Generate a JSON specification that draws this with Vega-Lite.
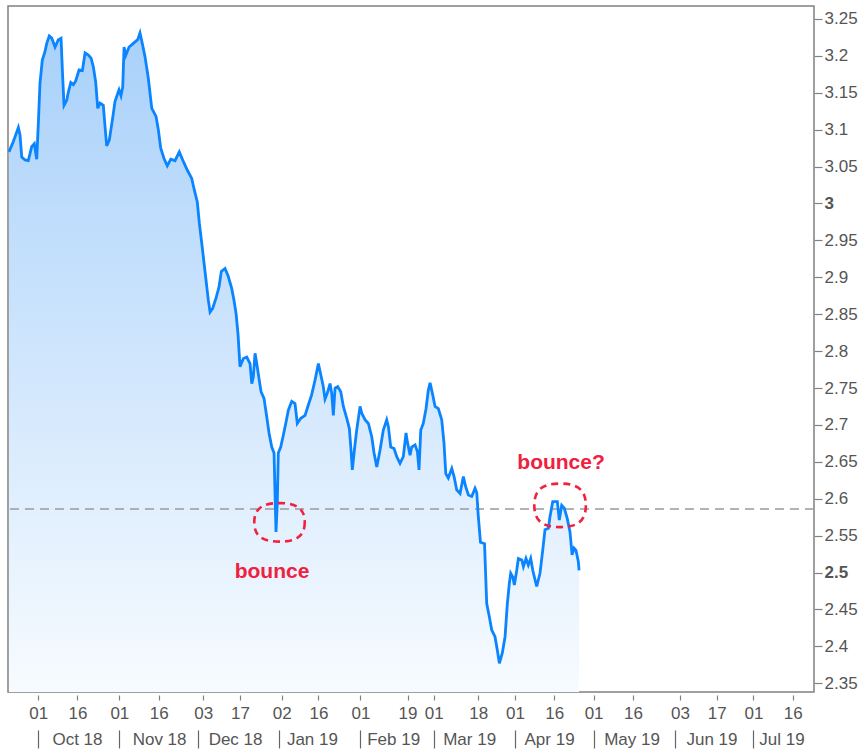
{
  "$schema": "https://vega.github.io/schema/vega-lite/v6.json",
  "width": 806,
  "height": 686,
  "padding": {"left": 3, "top": 6, "right": 0, "bottom": 0},
  "background": "white",
  "config": {
    "view": {"stroke": "#808080", "strokeWidth": 1.5},
    "axis": {"labelFont": "Liberation Sans", "labelFontSize": 17, "labelColor": "#555555", "tickColor": "#808080", "domain": false, "grid": false, "title": null, "labelOverlap": false}
  },
  "datasets": {
    "yield": [
      {"date": "2018-09-19T21:00", "v": 3.070},
      {"date": "2018-09-21T13:00", "v": 3.084},
      {"date": "2018-09-23T11:00", "v": 3.103},
      {"date": "2018-09-24T02:00", "v": 3.093},
      {"date": "2018-09-24T18:00", "v": 3.063},
      {"date": "2018-09-26T00:00", "v": 3.059},
      {"date": "2018-09-27T06:00", "v": 3.058},
      {"date": "2018-09-28T13:00", "v": 3.077},
      {"date": "2018-09-29T13:00", "v": 3.081},
      {"date": "2018-09-30T11:00", "v": 3.060},
      {"date": "2018-10-01T02:00", "v": 3.109},
      {"date": "2018-10-01T17:00", "v": 3.163},
      {"date": "2018-10-02T14:00", "v": 3.194},
      {"date": "2018-10-03T15:00", "v": 3.206},
      {"date": "2018-10-04T07:00", "v": 3.217},
      {"date": "2018-10-05T06:00", "v": 3.227},
      {"date": "2018-10-06T05:00", "v": 3.224},
      {"date": "2018-10-07T11:00", "v": 3.212},
      {"date": "2018-10-08T17:00", "v": 3.222},
      {"date": "2018-10-09T18:00", "v": 3.224},
      {"date": "2018-10-10T06:00", "v": 3.181},
      {"date": "2018-10-10T21:00", "v": 3.133},
      {"date": "2018-10-11T22:00", "v": 3.140},
      {"date": "2018-10-12T13:00", "v": 3.151},
      {"date": "2018-10-13T11:00", "v": 3.164},
      {"date": "2018-10-14T11:00", "v": 3.161},
      {"date": "2018-10-15T08:00", "v": 3.166},
      {"date": "2018-10-16T15:00", "v": 3.181},
      {"date": "2018-10-17T21:00", "v": 3.180},
      {"date": "2018-10-18T22:00", "v": 3.204},
      {"date": "2018-10-20T04:00", "v": 3.201},
      {"date": "2018-10-21T05:00", "v": 3.197},
      {"date": "2018-10-22T02:00", "v": 3.185},
      {"date": "2018-10-22T23:00", "v": 3.165},
      {"date": "2018-10-23T18:00", "v": 3.129},
      {"date": "2018-10-24T15:00", "v": 3.136},
      {"date": "2018-10-25T21:00", "v": 3.133},
      {"date": "2018-10-26T13:00", "v": 3.104},
      {"date": "2018-10-27T04:00", "v": 3.078},
      {"date": "2018-10-28T04:00", "v": 3.086},
      {"date": "2018-10-29T08:00", "v": 3.113},
      {"date": "2018-10-30T08:00", "v": 3.138},
      {"date": "2018-10-31T09:00", "v": 3.149},
      {"date": "2018-10-31T21:00", "v": 3.154},
      {"date": "2018-11-01T15:00", "v": 3.146},
      {"date": "2018-11-02T07:00", "v": 3.158},
      {"date": "2018-11-02T19:00", "v": 3.212},
      {"date": "2018-11-03T11:00", "v": 3.201},
      {"date": "2018-11-04T17:00", "v": 3.212},
      {"date": "2018-11-06T08:00", "v": 3.217},
      {"date": "2018-11-08T00:00", "v": 3.222},
      {"date": "2018-11-08T21:00", "v": 3.231},
      {"date": "2018-11-09T18:00", "v": 3.217},
      {"date": "2018-11-10T19:00", "v": 3.199},
      {"date": "2018-11-12T01:00", "v": 3.170},
      {"date": "2018-11-13T09:00", "v": 3.129},
      {"date": "2018-11-15T00:00", "v": 3.118},
      {"date": "2018-11-15T21:00", "v": 3.100},
      {"date": "2018-11-16T19:00", "v": 3.075},
      {"date": "2018-11-18T01:00", "v": 3.061},
      {"date": "2018-11-19T07:00", "v": 3.051},
      {"date": "2018-11-20T15:00", "v": 3.060},
      {"date": "2018-11-22T06:00", "v": 3.058},
      {"date": "2018-11-23T21:00", "v": 3.070},
      {"date": "2018-11-25T10:00", "v": 3.057},
      {"date": "2018-11-26T23:00", "v": 3.045},
      {"date": "2018-11-28T15:00", "v": 3.034},
      {"date": "2018-11-29T15:00", "v": 3.018},
      {"date": "2018-11-30T18:00", "v": 3.002},
      {"date": "2018-12-01T13:00", "v": 2.973},
      {"date": "2018-12-02T11:00", "v": 2.946},
      {"date": "2018-12-03T08:00", "v": 2.919},
      {"date": "2018-12-04T02:00", "v": 2.896},
      {"date": "2018-12-04T23:00", "v": 2.869},
      {"date": "2018-12-05T15:00", "v": 2.853},
      {"date": "2018-12-06T15:00", "v": 2.858},
      {"date": "2018-12-07T22:00", "v": 2.872},
      {"date": "2018-12-09T01:00", "v": 2.887},
      {"date": "2018-12-09T22:00", "v": 2.908},
      {"date": "2018-12-11T08:00", "v": 2.912},
      {"date": "2018-12-12T14:00", "v": 2.901},
      {"date": "2018-12-13T21:00", "v": 2.885},
      {"date": "2018-12-14T18:00", "v": 2.869},
      {"date": "2018-12-15T13:00", "v": 2.851},
      {"date": "2018-12-16T07:00", "v": 2.823},
      {"date": "2018-12-17T01:00", "v": 2.779},
      {"date": "2018-12-18T08:00", "v": 2.790},
      {"date": "2018-12-19T15:00", "v": 2.792},
      {"date": "2018-12-20T21:00", "v": 2.783},
      {"date": "2018-12-21T13:00", "v": 2.756},
      {"date": "2018-12-22T03:00", "v": 2.765},
      {"date": "2018-12-22T19:00", "v": 2.797},
      {"date": "2018-12-23T11:00", "v": 2.783},
      {"date": "2018-12-24T07:00", "v": 2.763},
      {"date": "2018-12-25T02:00", "v": 2.745},
      {"date": "2018-12-26T05:00", "v": 2.736},
      {"date": "2018-12-27T06:00", "v": 2.711},
      {"date": "2018-12-28T03:00", "v": 2.689},
      {"date": "2018-12-29T04:00", "v": 2.670},
      {"date": "2018-12-30T01:00", "v": 2.662},
      {"date": "2018-12-30T10:00", "v": 2.607},
      {"date": "2018-12-30T19:00", "v": 2.555},
      {"date": "2018-12-31T07:00", "v": 2.596},
      {"date": "2018-12-31T16:00", "v": 2.662},
      {"date": "2019-01-01T14:00", "v": 2.670},
      {"date": "2019-01-02T14:00", "v": 2.686},
      {"date": "2019-01-03T15:00", "v": 2.704},
      {"date": "2019-01-04T12:00", "v": 2.720},
      {"date": "2019-01-05T19:00", "v": 2.732},
      {"date": "2019-01-07T01:00", "v": 2.729},
      {"date": "2019-01-07T22:00", "v": 2.702},
      {"date": "2019-01-09T06:00", "v": 2.709},
      {"date": "2019-01-10T21:00", "v": 2.713},
      {"date": "2019-01-12T03:00", "v": 2.727},
      {"date": "2019-01-13T10:00", "v": 2.741},
      {"date": "2019-01-14T17:00", "v": 2.761},
      {"date": "2019-01-15T23:00", "v": 2.783},
      {"date": "2019-01-16T21:00", "v": 2.768},
      {"date": "2019-01-17T20:00", "v": 2.752},
      {"date": "2019-01-18T12:00", "v": 2.735},
      {"date": "2019-01-19T09:00", "v": 2.743},
      {"date": "2019-01-20T10:00", "v": 2.756},
      {"date": "2019-01-21T01:00", "v": 2.743},
      {"date": "2019-01-21T16:00", "v": 2.713},
      {"date": "2019-01-22T08:00", "v": 2.750},
      {"date": "2019-01-23T08:00", "v": 2.752},
      {"date": "2019-01-24T12:00", "v": 2.745},
      {"date": "2019-01-25T12:00", "v": 2.725},
      {"date": "2019-01-26T19:00", "v": 2.709},
      {"date": "2019-01-27T19:00", "v": 2.695},
      {"date": "2019-01-28T10:00", "v": 2.666},
      {"date": "2019-01-28T22:00", "v": 2.639},
      {"date": "2019-01-29T17:00", "v": 2.666},
      {"date": "2019-01-30T14:00", "v": 2.693},
      {"date": "2019-01-31T21:00", "v": 2.725},
      {"date": "2019-02-01T12:00", "v": 2.716},
      {"date": "2019-02-02T18:00", "v": 2.707},
      {"date": "2019-02-04T01:00", "v": 2.702},
      {"date": "2019-02-05T08:00", "v": 2.684},
      {"date": "2019-02-06T05:00", "v": 2.662},
      {"date": "2019-02-07T06:00", "v": 2.643},
      {"date": "2019-02-08T12:00", "v": 2.666},
      {"date": "2019-02-09T18:00", "v": 2.693},
      {"date": "2019-02-11T01:00", "v": 2.707},
      {"date": "2019-02-11T16:00", "v": 2.698},
      {"date": "2019-02-12T14:00", "v": 2.670},
      {"date": "2019-02-13T20:00", "v": 2.668},
      {"date": "2019-02-14T21:00", "v": 2.657},
      {"date": "2019-02-16T03:00", "v": 2.648},
      {"date": "2019-02-17T09:00", "v": 2.657},
      {"date": "2019-02-18T10:00", "v": 2.689},
      {"date": "2019-02-18T22:00", "v": 2.677},
      {"date": "2019-02-19T23:00", "v": 2.659},
      {"date": "2019-02-20T14:00", "v": 2.670},
      {"date": "2019-02-21T21:00", "v": 2.673},
      {"date": "2019-02-22T18:00", "v": 2.664},
      {"date": "2019-02-23T09:00", "v": 2.639},
      {"date": "2019-02-24T01:00", "v": 2.693},
      {"date": "2019-02-25T00:00", "v": 2.702},
      {"date": "2019-02-26T01:00", "v": 2.722},
      {"date": "2019-02-26T22:00", "v": 2.747},
      {"date": "2019-02-27T14:00", "v": 2.757},
      {"date": "2019-02-28T11:00", "v": 2.743},
      {"date": "2019-03-01T12:00", "v": 2.725},
      {"date": "2019-03-02T18:00", "v": 2.722},
      {"date": "2019-03-04T01:00", "v": 2.707},
      {"date": "2019-03-04T22:00", "v": 2.675},
      {"date": "2019-03-05T14:00", "v": 2.634},
      {"date": "2019-03-06T13:00", "v": 2.628},
      {"date": "2019-03-07T21:00", "v": 2.641},
      {"date": "2019-03-08T18:00", "v": 2.630},
      {"date": "2019-03-09T18:00", "v": 2.612},
      {"date": "2019-03-11T01:00", "v": 2.607},
      {"date": "2019-03-12T07:00", "v": 2.630},
      {"date": "2019-03-13T05:00", "v": 2.616},
      {"date": "2019-03-14T05:00", "v": 2.605},
      {"date": "2019-03-15T12:00", "v": 2.603},
      {"date": "2019-03-16T18:00", "v": 2.614},
      {"date": "2019-03-17T10:00", "v": 2.608},
      {"date": "2019-03-18T00:00", "v": 2.576},
      {"date": "2019-03-18T20:00", "v": 2.541},
      {"date": "2019-03-20T09:00", "v": 2.539},
      {"date": "2019-03-21T05:00", "v": 2.458},
      {"date": "2019-03-22T05:00", "v": 2.440},
      {"date": "2019-03-23T03:00", "v": 2.422},
      {"date": "2019-03-24T09:00", "v": 2.413},
      {"date": "2019-03-25T06:00", "v": 2.395},
      {"date": "2019-03-26T01:00", "v": 2.377},
      {"date": "2019-03-27T04:00", "v": 2.391},
      {"date": "2019-03-28T05:00", "v": 2.413},
      {"date": "2019-03-29T02:00", "v": 2.458},
      {"date": "2019-03-29T20:00", "v": 2.485},
      {"date": "2019-03-30T09:00", "v": 2.499},
      {"date": "2019-03-31T04:00", "v": 2.494},
      {"date": "2019-03-31T18:00", "v": 2.483},
      {"date": "2019-04-01T16:00", "v": 2.503},
      {"date": "2019-04-02T07:00", "v": 2.519},
      {"date": "2019-04-03T14:00", "v": 2.517},
      {"date": "2019-04-04T05:00", "v": 2.508},
      {"date": "2019-04-05T05:00", "v": 2.519},
      {"date": "2019-04-06T02:00", "v": 2.510},
      {"date": "2019-04-07T00:00", "v": 2.519},
      {"date": "2019-04-07T19:00", "v": 2.503},
      {"date": "2019-04-08T16:00", "v": 2.490},
      {"date": "2019-04-09T07:00", "v": 2.481},
      {"date": "2019-04-10T13:00", "v": 2.499},
      {"date": "2019-04-11T14:00", "v": 2.530},
      {"date": "2019-04-12T11:00", "v": 2.558},
      {"date": "2019-04-13T18:00", "v": 2.560},
      {"date": "2019-04-14T09:00", "v": 2.576},
      {"date": "2019-04-15T10:00", "v": 2.596},
      {"date": "2019-04-17T04:00", "v": 2.596},
      {"date": "2019-04-17T22:00", "v": 2.571},
      {"date": "2019-04-18T20:00", "v": 2.591},
      {"date": "2019-04-19T20:00", "v": 2.587},
      {"date": "2019-04-20T23:00", "v": 2.573},
      {"date": "2019-04-22T00:00", "v": 2.555},
      {"date": "2019-04-22T19:00", "v": 2.524},
      {"date": "2019-04-23T13:00", "v": 2.533},
      {"date": "2019-04-24T07:00", "v": 2.530},
      {"date": "2019-04-25T04:00", "v": 2.515},
      {"date": "2019-04-25T11:00", "v": 2.503}
    ],
    "level": [{"v": 2.586}],
    "notes": [
      {"note": "bounce", "cdate": "2019-01-01T03:00", "cv": 2.568, "tdate": "2018-12-29T06:00", "tv": 2.501},
      {"note": "bounce?", "cdate": "2019-04-18T05:00", "cv": 2.591, "tdate": "2019-04-18T14:00", "tv": 2.648}
    ]
  },
  "layer": [
    {
      "data": {"name": "yield"},
      "mark": {
        "type": "area",
        "color": {"gradient": "linear", "x1": 0, "y1": 0, "x2": 0, "y2": 1, "stops": [{"offset": 0, "color": "#a9d1fa"}, {"offset": 1, "color": "#f7fbff"}]}
      },
      "encoding": {
        "x": {
          "field": "date", "type": "temporal",
          "scale": {"domain": [{"year": 2018, "month": 9, "date": 19, "hours": 12}, {"year": 2019, "month": 7, "date": 24, "hours": 3}], "nice": false},
          "axis": {
            "orient": "bottom",
            "values": [
              {"year": 2018, "month": 10, "date": 1}, {"year": 2018, "month": 10, "date": 16},
              {"year": 2018, "month": 11, "date": 1}, {"year": 2018, "month": 11, "date": 16},
              {"year": 2018, "month": 12, "date": 3}, {"year": 2018, "month": 12, "date": 17},
              {"year": 2019, "month": 1, "date": 2}, {"year": 2019, "month": 1, "date": 16},
              {"year": 2019, "month": 2, "date": 1}, {"year": 2019, "month": 2, "date": 19},
              {"year": 2019, "month": 3, "date": 1}, {"year": 2019, "month": 3, "date": 18},
              {"year": 2019, "month": 4, "date": 1}, {"year": 2019, "month": 4, "date": 16},
              {"year": 2019, "month": 5, "date": 1}, {"year": 2019, "month": 5, "date": 16},
              {"year": 2019, "month": 6, "date": 3}, {"year": 2019, "month": 6, "date": 17},
              {"year": 2019, "month": 7, "date": 1}, {"year": 2019, "month": 7, "date": 16}
            ],
            "labelExpr": "timeFormat(datum.value, '%d')",
            "offset": 3, "tickSize": 5, "tickWidth": 1.2, "labelPadding": 5,
            "labelOverlap": false, "labelFlush": false
          }
        },
        "y": {
          "field": "v", "type": "quantitative", "stack": null,
          "scale": {"domain": [2.3381, 3.2676], "zero": false, "nice": false},
          "axis": {
            "orient": "right", "title": null,
            "values": [2.35, 2.4, 2.45, 2.5, 2.55, 2.6, 2.65, 2.7, 2.75, 2.8, 2.85, 2.9, 2.95, 3, 3.05, 3.1, 3.15, 3.2, 3.25],
            "format": ".2~f",
            "tickSize": 8, "tickWidth": 1.2, "labelPadding": 2,
            "labelOverlap": false, "labelFlush": false, "labelBound": false,
            "labelFontWeight": {"condition": {"test": "datum.value === 3 || datum.value === 2.5", "value": "bold"}, "value": "normal"}
          }
        }
      }
    },
    {
      "data": {"name": "level"},
      "mark": {"type": "rule", "color": "#9b9b9b", "strokeWidth": 1.6, "strokeDash": [9, 6]},
      "encoding": {
        "y": {
          "field": "v", "type": "quantitative", "scale": {"domain": [2.3381, 3.2676], "zero": false, "nice": false},
          "axis": {
            "orient": "right", "title": null,
            "values": [2.35, 2.4, 2.45, 2.5, 2.55, 2.6, 2.65, 2.7, 2.75, 2.8, 2.85, 2.9, 2.95, 3, 3.05, 3.1, 3.15, 3.2, 3.25],
            "format": ".2~f",
            "tickSize": 8, "tickWidth": 1.2, "labelPadding": 2,
            "labelOverlap": false, "labelFlush": false, "labelBound": false,
            "labelFontWeight": {"condition": {"test": "datum.value === 3 || datum.value === 2.5", "value": "bold"}, "value": "normal"}
          }
        }
      }
    },
    {
      "data": {"name": "yield"},
      "mark": {"type": "line", "color": "#0a84ff", "strokeWidth": 2.8},
      "encoding": {
        "x": {
          "field": "date", "type": "temporal",
          "scale": {"domain": [{"year": 2018, "month": 9, "date": 19, "hours": 12}, {"year": 2019, "month": 7, "date": 24, "hours": 3}], "nice": false},
          "axis": {
            "orient": "bottom",
            "values": [
              {"year": 2018, "month": 10, "date": 15, "hours": 20},
              {"year": 2018, "month": 11, "date": 16, "hours": 4},
              {"year": 2018, "month": 12, "date": 15, "hours": 4},
              {"year": 2019, "month": 1, "date": 13, "hours": 12},
              {"year": 2019, "month": 2, "date": 13, "hours": 12},
              {"year": 2019, "month": 3, "date": 14, "hours": 12},
              {"year": 2019, "month": 4, "date": 14, "hours": 0},
              {"year": 2019, "month": 5, "date": 15, "hours": 12},
              {"year": 2019, "month": 6, "date": 15, "hours": 0},
              {"year": 2019, "month": 7, "date": 11, "hours": 17}
            ],
            "labelExpr": "timeFormat(datum.value, '%b %y')",
            "ticks": false, "tickSize": 0, "labelPadding": 39,
            "labelOverlap": false, "labelFlush": false
          }
        },
        "y": {
          "field": "v", "type": "quantitative", "stack": null, "scale": {"domain": [2.3381, 3.2676], "zero": false, "nice": false},
          "axis": {
            "orient": "right", "title": null,
            "values": [2.35, 2.4, 2.45, 2.5, 2.55, 2.6, 2.65, 2.7, 2.75, 2.8, 2.85, 2.9, 2.95, 3, 3.05, 3.1, 3.15, 3.2, 3.25],
            "format": ".2~f",
            "tickSize": 8, "tickWidth": 1.2, "labelPadding": 2,
            "labelOverlap": false, "labelFlush": false, "labelBound": false,
            "labelFontWeight": {"condition": {"test": "datum.value === 3 || datum.value === 2.5", "value": "bold"}, "value": "normal"}
          }
        }
      }
    },
    {
      "data": {"name": "notes"},
      "mark": {"type": "point", "filled": false, "stroke": "#f0203e", "strokeWidth": 2.6, "strokeDash": [7, 5], "opacity": 1, "size": 2916},
      "encoding": {
        "x": {
          "field": "cdate", "type": "temporal",
          "scale": {"domain": [{"year": 2018, "month": 9, "date": 19, "hours": 12}, {"year": 2019, "month": 7, "date": 24, "hours": 3}], "nice": false},
          "axis": {
            "orient": "bottom",
            "values": [
              {"year": 2018, "month": 10, "date": 1}, {"year": 2018, "month": 11, "date": 1},
              {"year": 2018, "month": 12, "date": 1}, {"year": 2019, "month": 1, "date": 1},
              {"year": 2019, "month": 2, "date": 1}, {"year": 2019, "month": 3, "date": 1},
              {"year": 2019, "month": 4, "date": 1}, {"year": 2019, "month": 5, "date": 1},
              {"year": 2019, "month": 6, "date": 1}, {"year": 2019, "month": 7, "date": 1}
            ],
            "labels": false, "offset": 38, "tickSize": 18, "tickWidth": 1.2, "tickColor": "#666666"
          }
        },
        "y": {
          "field": "cv", "type": "quantitative", "scale": {"domain": [2.3381, 3.2676], "zero": false, "nice": false},
          "axis": {
            "orient": "right", "title": null,
            "values": [2.35, 2.4, 2.45, 2.5, 2.55, 2.6, 2.65, 2.7, 2.75, 2.8, 2.85, 2.9, 2.95, 3, 3.05, 3.1, 3.15, 3.2, 3.25],
            "format": ".2~f",
            "tickSize": 8, "tickWidth": 1.2, "labelPadding": 2,
            "labelOverlap": false, "labelFlush": false, "labelBound": false,
            "labelFontWeight": {"condition": {"test": "datum.value === 3 || datum.value === 2.5", "value": "bold"}, "value": "normal"}
          }
        },
        "shape": {
          "field": "note", "type": "nominal",
          "scale": {
            "domain": ["bounce", "bounce?"],
            "range": [
              "M0.935,0C0.935,0.499,0.655,0.713,0,0.713C-0.655,0.713,-0.935,0.499,-0.935,0C-0.935,-0.499,-0.655,-0.713,0,-0.713C0.655,-0.713,0.935,-0.499,0.935,0Z",
              "M0.954,0C0.954,0.564,0.668,0.806,0,0.806C-0.668,0.806,-0.954,0.564,-0.954,0C-0.954,-0.564,-0.668,-0.806,0,-0.806C0.668,-0.806,0.954,-0.564,0.954,0Z"
            ]
          },
          "legend": null
        }
      }
    },
    {
      "data": {"name": "notes"},
      "mark": {"type": "text", "font": "Liberation Sans", "fontWeight": "bold", "fontSize": 21, "color": "#f0203e", "align": "center", "baseline": "middle"},
      "encoding": {
        "x": {"field": "tdate", "type": "temporal", "scale": {"domain": [{"year": 2018, "month": 9, "date": 19, "hours": 12}, {"year": 2019, "month": 7, "date": 24, "hours": 3}], "nice": false}, "axis": null},
        "y": {
          "field": "tv", "type": "quantitative", "scale": {"domain": [2.3381, 3.2676], "zero": false, "nice": false},
          "axis": {
            "orient": "right", "title": null,
            "values": [2.35, 2.4, 2.45, 2.5, 2.55, 2.6, 2.65, 2.7, 2.75, 2.8, 2.85, 2.9, 2.95, 3, 3.05, 3.1, 3.15, 3.2, 3.25],
            "format": ".2~f",
            "tickSize": 8, "tickWidth": 1.2, "labelPadding": 2,
            "labelOverlap": false, "labelFlush": false, "labelBound": false,
            "labelFontWeight": {"condition": {"test": "datum.value === 3 || datum.value === 2.5", "value": "bold"}, "value": "normal"}
          }
        },
        "text": {"field": "note", "type": "nominal"}
      }
    }
  ],
  "resolve": {"axis": {"x": "independent"}}
}
